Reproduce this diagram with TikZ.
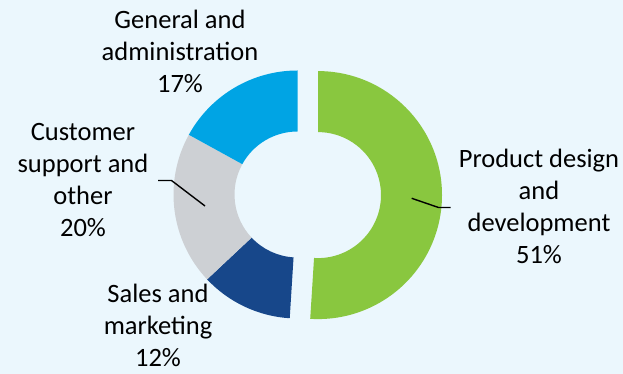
\documentclass[tikz,border=0pt]{standalone}
\usepackage{fontspec}
\setmainfont{Carlito}
\usetikzlibrary{calc}
\definecolor{bgc}{RGB}{235,247,253}
\definecolor{cgreen}{RGB}{137,199,63}
\definecolor{cnavy}{RGB}{23,71,138}
\definecolor{cgrey}{RGB}{205,208,212}
\definecolor{cblue}{RGB}{0,164,228}
\tikzset{
  lbl/.style={align=center, inner sep=0pt, anchor=base, font=\fontsize{26.5}{32}\selectfont, text=black},
  leader/.style={draw=black, line width=1.4pt},
}
\newcommand{\donutslice}[5]{% center, start, end, color, name
  \fill[#4] ($(#1)+(#2:124pt)$) arc[start angle=#2, end angle=#3, radius=124pt]
    -- ($(#1)+(#3:63pt)$) arc[start angle=#3, end angle=#2, radius=63pt] -- cycle;
}
\begin{document}
\begin{tikzpicture}[x=1pt,y=1pt]
\fill[bgc] (0,0) rectangle (623,374);
\useasboundingbox (0,0) rectangle (623,374);
\coordinate (cl) at (297.5,179.5);
\coordinate (cg) at (318,178.9);
\donutslice{cg}{90}{-93.6}{cgreen}{g}
\donutslice{cl}{-93.6}{-136.8}{cnavy}{n}
\donutslice{cl}{-136.8}{-208.8}{cgrey}{c}
\donutslice{cl}{-208.8}{-270}{cblue}{b}
% labels (base anchor = baseline of last line)
\node[lbl] (lga) at (180,281.3) {General and\\administration\\17\%};
\node[lbl] (lcs) at (83,137) {Customer\\support and\\other\\20\%};
\node[lbl] (lpd) at (539,110.7) {Product design\\and\\development\\51\%};
\node[lbl] (lsm) at (158,7.3) {Sales and\\marketing\\12\%};
% leaders
\coordinate (cs1) at (205,168);
\coordinate (cs2) at (171.5,193.5);
\coordinate (cs3) at (158,193.5);
\draw[leader] (cs1) -- (cs2) -- (cs3);
\coordinate (pd1) at (411.7,175.7);
\coordinate (pd2) at (438.5,166.5);
\coordinate (pd3) at (450.7,166.5);
\draw[leader] (pd1) -- (pd2) -- (pd3);
\end{tikzpicture}
\end{document}
